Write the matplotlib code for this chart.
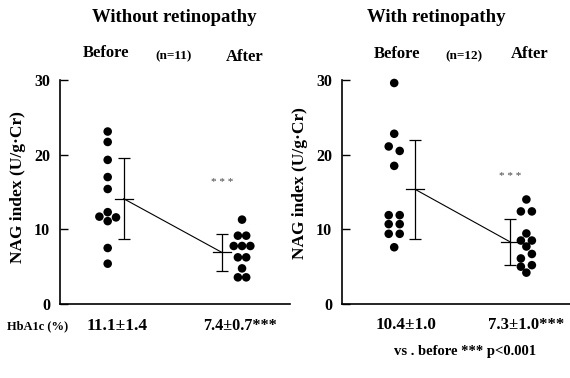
import matplotlib
matplotlib.use("Agg")
from matplotlib import pyplot as plt

plt.rcParams["font.family"] = ["Liberation Serif", "DejaVu Serif"]
plt.rcParams["font.weight"] = "bold"

# values, grouped in the rows they are drawn in
before_wo = [[23.1], [21.7], [19.3], [17.0], [15.4], [12.3], [11.7, 11.6], [11.1], [7.5], [5.4]]
after_wo = [[11.3], [9.15, 9.15], [7.77, 7.77, 7.77], [6.25, 6.25], [4.77], [3.57, 3.57]]
before_w = [[29.6], [22.8], [21.1, 20.5], [18.5], [11.9, 11.9], [10.7, 10.7], [9.4, 9.4], [7.6]]
after_w = [[14.0], [12.4, 12.4], [9.45], [8.5, 8.5], [7.7], [6.1, 6.7], [5.0, 5.2], [4.2]]

mean_wo = [14.1, 6.9]
sd_wo = [5.4, 2.45]
mean_w = [15.35, 8.3]
sd_w = [6.6, 3.05]

titles = ["Without retinopathy", "With retinopathy"]
n_labels = ["(n=11)", "(n=12)"]
hba1c_wo = ["11.1\u00b11.4", "7.4\u00b10.7***"]
hba1c_w = ["10.4\u00b11.0", "7.3\u00b11.0***"]
yticks = [0, 10, 20, 30]

W, H = 570, 378
fig = plt.figure(figsize=(W / 100, H / 100), dpi=100)


def px(x, y):
    return x / W, 1 - y / H


def swarm(rows, diam, spacing, ppx, ppy):
    # symmetric rows, widened when they bump into dots already placed
    placed = []
    xs, ys = [], []
    for row in rows:
        n = len(row)
        for step in (1, 2, 3):
            cand = [((i - (n - 1) / 2) * spacing * step, v * ppy) for i, v in enumerate(row)]
            ok = all(((cx - qx) ** 2 + (cy - qy) ** 2) ** 0.5 >= 0.95 * diam
                     for cx, cy in cand for qx, qy in placed)
            if ok:
                break
        placed += cand
        for (cx, cy), v in zip(cand, row):
            xs.append(cx / ppx)
            ys.append(v)
    return xs, ys


def panel(left, width, xlim, before, after, mean, sd, spacing, bar_off, star_y):
    x0, y0 = px(left, 304)
    ax = fig.add_axes([x0, y0, width / W, 224 / H])
    ax.set_xlim(*xlim)
    ax.set_ylim(0, 30)
    ppx = width / (xlim[1] - xlim[0])
    ppy = 224 / 30

    for centre, rows in zip([1, 2], [before, after]):
        dx, yy = swarm(rows, 8.3, spacing, ppx, ppy)
        ax.scatter([centre + d for d in dx], yy, s=38, color="black",
                   edgecolors="none", clip_on=False, zorder=3)

    bx = [1 + bar_off[0] / ppx, 2 + bar_off[1] / ppx]
    ax.errorbar(bx, mean, yerr=sd, fmt="none", ecolor="black", elinewidth=0.9,
                capsize=4, capthick=0.9)
    half = 9 / ppx
    for x, m in zip(bx, mean):
        ax.plot([x - half, x + half], [m, m], color="black", lw=0.9)
    ax.plot(bx, mean, color="black", lw=0.8)

    ax.text(bx[1], star_y, "* * *", ha="center", va="center",
            fontsize=8, color="#444444", fontweight="normal")

    ax.spines["top"].set_visible(False)
    ax.spines["right"].set_visible(False)
    ax.spines["left"].set_linewidth(1.2)
    ax.spines["bottom"].set_linewidth(1.2)
    ax.set_xticks([])
    ax.set_yticks(yticks)
    ax.tick_params(axis="y", direction="in", length=6, width=1, pad=7, labelsize=11.5)
    return ax


panel(60, 230, (0.645, 2.357), before_wo, after_wo, mean_wo, sd_wo, 8.3, (16, -20), 16.3)
panel(342, 228, (0.605, 2.33), before_w, after_w, mean_w, sd_w, 11, (21, -16), 17.1)

ylab = "NAG index (U/g\u00b7Cr)"
fig.text(*px(18, 187), ylab, rotation=90, ha="center", va="center", fontsize=12.5)
fig.text(*px(300, 183), ylab, rotation=90, ha="center", va="center", fontsize=12.5)

fig.text(*px(174, 18), titles[0], ha="center", va="center", fontsize=13.5)
fig.text(*px(436, 17), titles[1], ha="center", va="center", fontsize=13.5)

fig.text(*px(106, 53), "Before", ha="center", va="center", fontsize=12)
fig.text(*px(174, 56), n_labels[0], ha="center", va="center", fontsize=9.5)
fig.text(*px(245, 57), "After", ha="center", va="center", fontsize=12)
fig.text(*px(397, 54), "Before", ha="center", va="center", fontsize=12)
fig.text(*px(464, 56), n_labels[1], ha="center", va="center", fontsize=9.5)
fig.text(*px(530, 54), "After", ha="center", va="center", fontsize=12)

fig.text(*px(38, 326), "HbA1c (%)", ha="center", va="center", fontsize=9)
fig.text(*px(117, 326), hba1c_wo[0], ha="center", va="center", fontsize=12.5)
fig.text(*px(240, 326), hba1c_wo[1], ha="center", va="center", fontsize=11.7)
fig.text(*px(406, 325), hba1c_w[0], ha="center", va="center", fontsize=12.3)
fig.text(*px(526, 325), hba1c_w[1], ha="center", va="center", fontsize=12)

fig.text(*px(465, 352), "vs . before *** p<0.001", ha="center", va="center", fontsize=10.5)

fig.savefig("out.png", dpi=100)
